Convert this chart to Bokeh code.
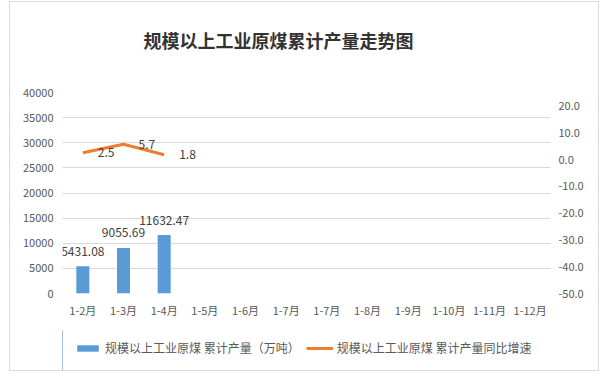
from bokeh.plotting import figure
from bokeh.layouts import column
from bokeh.models import (Range1d, LinearAxis, FixedTicker, NumeralTickFormatter,
                          ColumnDataSource, LabelSet, Label, Legend, LegendItem)
from bokeh.core.properties import value
from bokeh.embed import file_html
from bokeh.resources import INLINE

# ---- data ----
categories = ["1-2月", "1-3月", "1-4月", "1-5月", "1-6月", "1-7月",
              "1-7月", "1-8月", "1-9月", "1-10月", "1-11月", "1-12月"]
output_values = [5431.08, 9055.69, 11632.47]        # 累计产量（万吨）
growth_values = [2.5, 5.7, 1.8]                      # 累计产量同比增速
left_ticks = [0, 5000, 10000, 15000, 20000, 25000, 30000, 35000, 40000]
right_ticks = [-50, -40, -30, -20, -10, 0, 10, 20]
title_text = "规模以上工业原煤累计产量走势图"
bar_name = "规模以上工业原煤 累计产量（万吨）"
line_name = "规模以上工业原煤 累计产量同比增速"

FONT = "Noto Sans CJK SC"
BLUE = "#5b9bd5"
ORANGE = "#ed7d31"
GRID = "#d9d9d9"
TXT = "#595959"


def blank_fig(h):
    # x range far away from the data so proxy glyphs stay out of view
    f = figure(width=588, height=h, x_range=Range1d(100, 101), y_range=Range1d(0, 1),
               output_backend="svg", toolbar_location=None,
               x_axis_type=None, y_axis_type=None, min_border=0)
    f.outline_line_color = None
    f.grid.visible = False
    f.background_fill_color = "white"
    f.border_fill_color = "white"
    return f


bar_src = ColumnDataSource(dict(x=list(range(len(output_values))), y=output_values,
                                lab=["%.2f" % v for v in output_values]))
line_src = ColumnDataSource(dict(x=list(range(len(growth_values))), y=growth_values,
                                 lab=["%.1f" % v for v in growth_values]))

# ---- title strip ----
pt = blank_fig(60)
pt.add_layout(Label(x=216, y=23, x_units="screen", y_units="screen", text=title_text,
                    text_align="center", text_baseline="middle",
                    text_font=FONT, text_font_size="18px", text_font_style="bold",
                    text_color="#333333"))

# ---- main chart ----
p = figure(frame_width=488, frame_height=201,
           x_range=Range1d(-0.5, len(categories) - 0.5),
           y_range=Range1d(0, 40000),
           output_backend="svg", toolbar_location=None,
           min_border_left=52, min_border_right=48,
           min_border_top=30, min_border_bottom=37)
p.outline_line_color = None
p.background_fill_color = "white"
p.border_fill_color = "white"
p.extra_y_ranges = {"r": Range1d(-50, 25)}

p.xaxis.ticker = FixedTicker(ticks=list(range(len(categories))))
p.xaxis.major_label_overrides = {i: c for i, c in enumerate(categories)}
p.yaxis.ticker = FixedTicker(ticks=left_ticks)
p.yaxis.formatter = NumeralTickFormatter(format="0")

raxis = LinearAxis(y_range_name="r", ticker=FixedTicker(ticks=right_ticks),
                   formatter=NumeralTickFormatter(format="0.0"))
p.add_layout(raxis, "right")

for ax in [p.xaxis[0], p.yaxis[0], raxis]:
    ax.axis_line_color = None
    ax.major_tick_line_color = None
    ax.minor_tick_line_color = None
    ax.major_tick_out = 0
    ax.major_tick_in = 0
    ax.major_label_text_font = FONT
    ax.major_label_text_font_size = "11px"
    ax.major_label_text_color = TXT
p.xaxis.major_label_standoff = 8
p.yaxis[0].major_label_standoff = 9
raxis.major_label_standoff = 8

p.xgrid.grid_line_color = None
p.ygrid.ticker = FixedTicker(ticks=left_ticks)
p.ygrid.grid_line_color = GRID
p.ygrid.grid_line_width = 1

p.vbar(x="x", top="y", width=0.32, source=bar_src, color=BLUE, line_color=None)
p.line(x="x", y="y", source=line_src, y_range_name="r", line_color=ORANGE, line_width=3)

p.add_layout(LabelSet(x="x", y="y", text="lab", source=bar_src,
                      text_align="center", text_baseline="middle", y_offset=15,
                      text_font=value(FONT), text_font_size="12px", text_color="#404040"))
p.add_layout(LabelSet(x="x", y="y", text="lab", source=line_src, y_range_name="r",
                      text_align="left", text_baseline="middle", x_offset=15,
                      text_font=value(FONT), text_font_size="12px", text_color="#404040"))

# ---- legend strip ----
pl = blank_fig(40)
lbar = pl.vbar(x="x", top="y", width=0.32, source=bar_src, color=BLUE, line_color=None)
lline = pl.line(x="x", y="y", source=line_src, line_color=ORANGE, line_width=3)
legend = Legend(items=[LegendItem(label=bar_name, renderers=[lbar]),
                       LegendItem(label=line_name, renderers=[lline])],
                orientation="horizontal", location=(12, 14),
                glyph_width=27, glyph_height=8, label_height=16,
                label_standoff=4, spacing=6, padding=0, margin=0,
                border_line_color=None, background_fill_alpha=0,
                label_text_font=FONT, label_text_font_size="12px",
                label_text_color=TXT)
pl.add_layout(legend, "center")

layout = column(pt, p, pl, spacing=0, margin=(2, 0, 0, 10),
                styles={"outline": "1px solid #d9d9d9"})

open("out.html", "w").write(file_html(layout, INLINE))
